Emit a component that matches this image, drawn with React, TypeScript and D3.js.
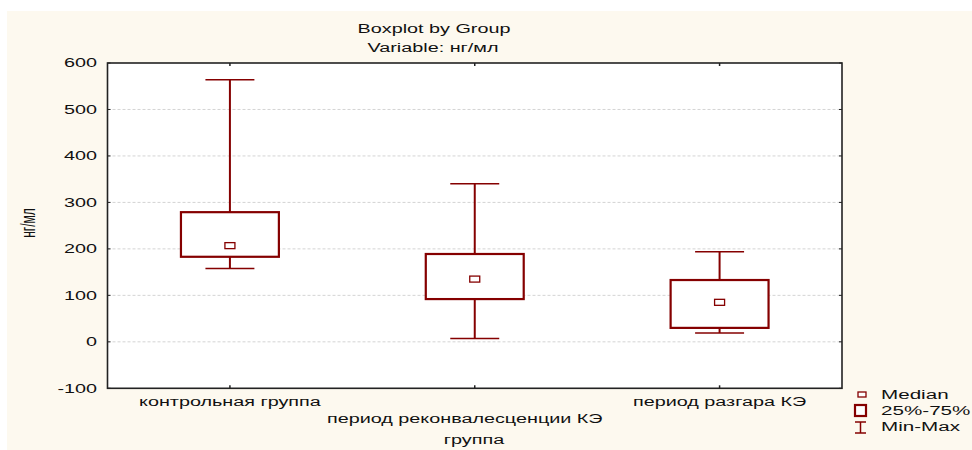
import React from 'react';
import * as d3 from 'd3';

const categories = ['контрольная группа', 'период реконвалесценции КЭ', 'период разгара КЭ'];
const minValues = [158, 7, 19];
const q1Values = [183, 92, 30];
const medianValues = [207, 135, 85];
const q3Values = [279, 189, 133];
const maxValues = [564, 340, 194];
const yTicks = [-100, 0, 100, 200, 300, 400, 500, 600];
const legendLabels = ['Median', '25%-75%', 'Min-Max'];

const W = 972;
const H = 450;
const plot = { left: 107.5, right: 842, top: 63, bottom: 388.3 };
const RED = '#850000';
const SX = 1.65;
const FONT = '"Liberation Sans", Arial, sans-serif';

function SText({ x, y, anchor = 'start', size = 12, children, rotate = 0 }: any) {
  return (
    <text
      transform={`translate(${x},${y}) scale(${SX},1)${rotate ? ` rotate(${rotate})` : ''}`}
      textAnchor={anchor}
      fontFamily={FONT}
      fontSize={size}
      fill="#111"
    >
      {children}
    </text>
  );
}

export default function App() {
  const x = d3.scaleBand<string>().domain(categories).range([plot.left, plot.right]).padding(0);
  const y = d3.scaleLinear().domain([-100, 600]).range([plot.bottom, plot.top]);
  const bw = x.bandwidth() * 0.4;
  const cw = bw / 2;

  return (
    <svg width={W} height={H} style={{ position: 'absolute', left: 0, top: 0 }}>
      <rect x={7} y={11} width={W - 7} height={H - 11} fill="#fdf9ef" />
      <rect x={plot.left} y={plot.top} width={plot.right - plot.left} height={plot.bottom - plot.top} fill="#fff" />
      {/* gridlines */}
      {yTicks.filter(t => t > -100 && t < 600).map(t => (
        <line key={'g' + t} x1={plot.left} x2={plot.right} y1={y(t)} y2={y(t)} stroke="#d4d4d4" strokeWidth={1} strokeDasharray="3,2" />
      ))}
      {/* ticks */}
      {yTicks.map(t => (
        <g key={'t' + t}>
          <line x1={plot.left} x2={plot.left + 3} y1={y(t)} y2={y(t)} stroke="#222" />
          <line x1={plot.right - 3} x2={plot.right} y1={y(t)} y2={y(t)} stroke="#222" />
          <SText x={97} y={y(t) + 4.3} anchor="end">{t}</SText>
        </g>
      ))}
      {categories.map(c => {
        const cx = (x(c) as number) + x.bandwidth() / 2;
        return (
          <g key={'xt' + c}>
            <line x1={cx} x2={cx} y1={plot.top} y2={plot.top + 3} stroke="#222" strokeWidth={1.5} />
            <line x1={cx} x2={cx} y1={plot.bottom - 3} y2={plot.bottom} stroke="#222" strokeWidth={1.5} />
          </g>
        );
      })}
      {/* boxes */}
      {categories.map((c, i) => {
        const cx = (x(c) as number) + x.bandwidth() / 2;
        return (
          <g key={'b' + c}>
            <line x1={cx} x2={cx} y1={y(maxValues[i])} y2={y(q3Values[i])} stroke={RED} strokeWidth={2} />
            <line x1={cx} x2={cx} y1={y(q1Values[i])} y2={y(minValues[i])} stroke={RED} strokeWidth={2} />
            <line x1={cx - cw / 2} x2={cx + cw / 2} y1={y(maxValues[i])} y2={y(maxValues[i])} stroke={RED} strokeWidth={1.5} />
            <line x1={cx - cw / 2} x2={cx + cw / 2} y1={y(minValues[i])} y2={y(minValues[i])} stroke={RED} strokeWidth={1.5} />
            <rect x={cx - bw / 2} y={y(q3Values[i])} width={bw} height={y(q1Values[i]) - y(q3Values[i])} fill="#fff" stroke={RED} strokeWidth={2.2} />
            <rect x={cx - 5} y={y(medianValues[i]) - 3} width={10} height={6} fill="#fff" stroke={RED} strokeWidth={1.3} />
          </g>
        );
      })}
      {/* frame */}
      <rect x={plot.left} y={plot.top} width={plot.right - plot.left} height={plot.bottom - plot.top} fill="none" stroke="#222" strokeWidth={1.6} />
      {/* titles */}
      <SText x={434} y={32.5} anchor="middle">Boxplot by Group</SText>
      <SText x={433} y={52} anchor="middle">Variable: нг/мл</SText>
      {/* x labels */}
      {categories.map((c, i) => {
        const cx = (x(c) as number) + x.bandwidth() / 2;
        return (
          <SText key={'xl' + c} x={i === 1 ? cx - 10 : cx} y={i === 1 ? 422.5 : 405.5} anchor="middle">{c}</SText>
        );
      })}
      <SText x={474} y={444} anchor="middle">группа</SText>
      <SText x={35} y={223} anchor="middle" rotate={-90}>нг/мл</SText>
      {/* legend */}
      <rect x={858} y={392} width={8} height={5} fill="#fff" stroke={RED} strokeWidth={1.3} />
      <rect x={855} y={405} width={11} height={11} fill="#fff" stroke={RED} strokeWidth={2.2} />
      <line x1={855} x2={866} y1={422} y2={422} stroke={RED} strokeWidth={1.5} />
      <line x1={855} x2={866} y1={433} y2={433} stroke={RED} strokeWidth={1.5} />
      <line x1={860.5} x2={860.5} y1={422} y2={433} stroke={RED} strokeWidth={1.5} />
      {legendLabels.map((l, i) => (
        <SText key={l} x={881} y={398.5 + i * 16.3} anchor="start" size={12.5}>{l}</SText>
      ))}
    </svg>
  );
}
